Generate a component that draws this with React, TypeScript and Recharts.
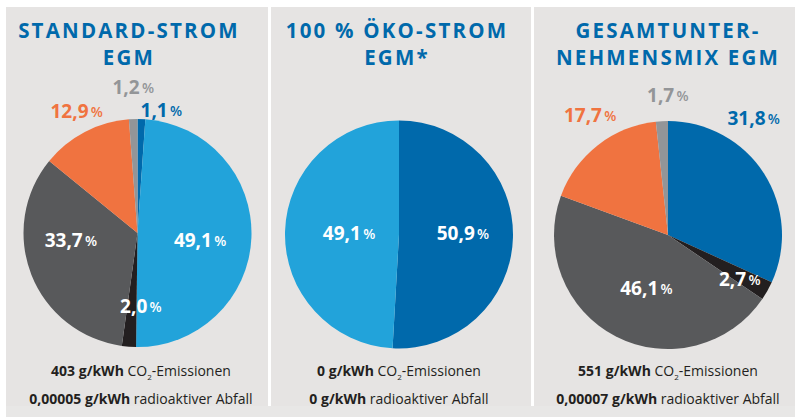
import React from 'react';
import { PieChart, Pie, Cell } from 'recharts';

// energy sources, in the order the slices run clockwise from 12 o'clock
const sources = [
  'Sonstige erneuerbare Energien',
  'Erneuerbare Energien (EEG)',
  'Kernkraft',
  'Kohle',
  'Erdgas',
  'Sonstige fossile Energieträger',
];
const standardValues = [1.1, 49.1, 2.0, 33.7, 12.9, 1.2];
const oekoValues = [50.9, 49.1, 0, 0, 0, 0];
const gesamtValues = [31.8, 0, 2.7, 46.1, 17.7, 1.7];

const titles = [
  ['STANDARD-STROM', 'EGM'],
  ['100 % ÖKO-STROM', 'EGM*'],
  ['GESAMTUNTER-', 'NEHMENSMIX EGM'],
];
const co2 = ['403 g/kWh', '0 g/kWh', '551 g/kWh'];
const waste = ['0,00005 g/kWh', '0 g/kWh', '0,00007 g/kWh'];

const COLORS = ['#0069ab', '#22a3da', '#231f20', '#58595b', '#f07340', '#939598'];
const BG = '#e6e4e3';
const RADIUS = 114;

// label placement per source: distance from centre (px) and turn off the mid angle (deg)
type Place = { r: number; turn: number } | null;
const standardPlaces: Place[] = [
  { r: 125, turn: 9 },
  { r: 63, turn: 4 },
  { r: 73, turn: -7 },
  { r: 67, turn: 15 },
  { r: 136, turn: 1 },
  { r: 146, turn: 0.5 },
];
const oekoPlaces: Place[] = [{ r: 64, turn: -3 }, { r: 50, turn: 0 }, null, null, null, null];
const gesamtPlaces: Place[] = [
  { r: 145, turn: -21 },
  null,
  { r: 84, turn: 2 },
  { r: 57, turn: -5 },
  { r: 143, turn: 5 },
  { r: 140, turn: 3 },
];

const pies = [
  { values: standardValues, places: standardPlaces, cx: 137.5, cy: 233 },
  { values: oekoValues, places: oekoPlaces, cx: 399, cy: 234.5 },
  { values: gesamtValues, places: gesamtPlaces, cx: 668, cy: 235 },
];

const panels = [
  { left: 6, width: 262, center: 129 },
  { left: 271, width: 260, center: 397 },
  { left: 534, width: 261, center: 668 },
];
const footCenters = [141, 399, 668];

const fmt = (v: number) => v.toFixed(1).replace('.', ',');

function makeLabel(places: Place[]) {
  return (props: any) => {
    const { cx, cy, midAngle, outerRadius, payload } = props;
    const place = places[payload.idx];
    if (!place) return null;
    const clock = ((90 - midAngle + place.turn) * Math.PI) / 180;
    const x = cx + place.r * Math.sin(clock);
    const y = cy - place.r * Math.cos(clock);
    const fill = place.r > outerRadius ? COLORS[payload.idx] : '#ffffff';
    return (
      <text
        x={x}
        y={y}
        textAnchor="middle"
        dominantBaseline="central"
        fill={fill}
        fontFamily="'Open Sans', sans-serif"
      >
        <tspan fontSize={19} fontWeight={700}>{fmt(payload.value)}</tspan>
        <tspan fontSize={14} fontWeight={600}>{'\u2009%'}</tspan>
      </text>
    );
  };
}

export default function App() {
  return (
    <div
      style={{
        position: 'absolute',
        left: 0,
        top: 0,
        width: 795,
        height: 417,
        background: '#ffffff',
        overflow: 'hidden',
        fontFamily: "'Open Sans', sans-serif",
      }}
    >
      <div style={{ position: 'absolute', left: 6, top: 406, width: 789, height: 11, background: '#e8e7e6' }} />
      {panels.map((p, i) => (
        <div key={i} style={{ position: 'absolute', left: p.left, top: 7, width: p.width, height: 399, background: BG }} />
      ))}
      {titles.map((t, i) => (
        <div
          key={i}
          style={{
            position: 'absolute',
            left: panels[i].center - 150,
            width: 300,
            top: 17,
            textAlign: 'center',
            color: '#0069ab',
            fontSize: 20.5,
            fontWeight: 700,
            letterSpacing: 2.2,
            lineHeight: '27px',
            whiteSpace: 'nowrap',
          }}
        >
          <div>{t[0]}</div>
          <div>{t[1]}</div>
        </div>
      ))}
      {footCenters.map((c, i) => (
        <div
          key={i}
          style={{
            position: 'absolute',
            left: c - 150,
            width: 300,
            top: 358,
            textAlign: 'center',
            color: '#231f20',
            fontSize: 14,
            lineHeight: '26px',
            whiteSpace: 'nowrap',
          }}
        >
          <div>
            <b>{co2[i]}</b> CO
            <span style={{ fontSize: 8, position: 'relative', top: 4 }}>2</span>-Emissionen
          </div>
          <div>
            <b>{waste[i]}</b> radioaktiver Abfall
          </div>
        </div>
      ))}
      <div style={{ position: 'absolute', left: 0, top: 0 }}>
        <PieChart width={795} height={417} margin={{ top: 0, right: 0, bottom: 0, left: 0 }}>
          {pies.map((p, i) => {
            const data = sources
              .map((name, idx) => ({ name, idx, value: p.values[idx] }))
              .filter((d) => d.value > 0);
            return (
              <Pie
                key={i}
                data={data}
                dataKey="value"
                nameKey="name"
                cx={p.cx}
                cy={p.cy}
                outerRadius={RADIUS}
                startAngle={90}
                endAngle={-270}
                stroke="none"
                labelLine={false}
                label={makeLabel(p.places)}
                isAnimationActive={false}
              >
                {data.map((d) => (
                  <Cell key={d.name} fill={COLORS[d.idx]} />
                ))}
              </Pie>
            );
          })}
        </PieChart>
      </div>
    </div>
  );
}
